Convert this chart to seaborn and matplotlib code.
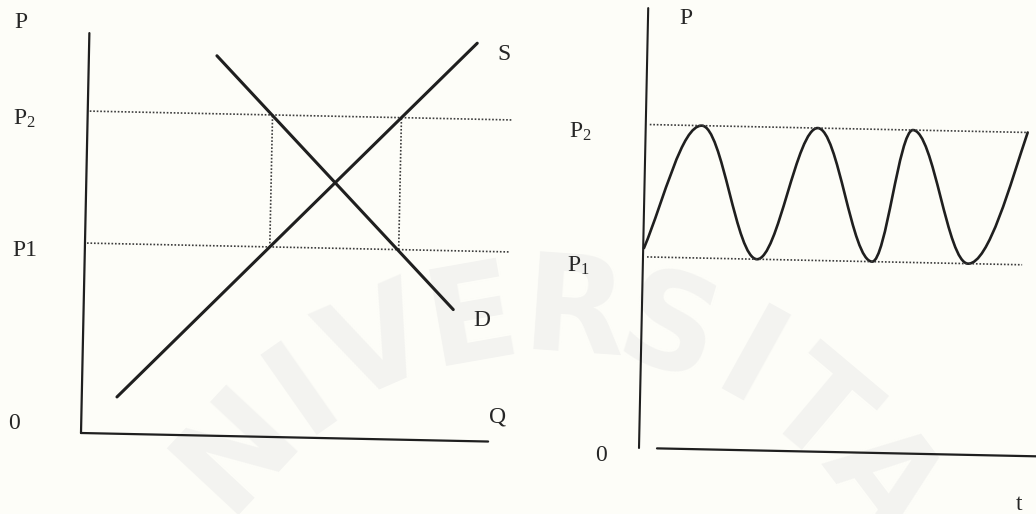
import numpy as np
import matplotlib
matplotlib.use("Agg")
import matplotlib.pyplot as plt
import matplotlib.transforms as mtransforms
from matplotlib.path import Path
from matplotlib.patches import PathPatch
import seaborn as sns

# left diagram: supply / demand (Q, P in arbitrary units, origin at 0)
P1 = 4.75
P2 = 8.05
supply_q = [0.88, 9.70]
supply_p = [0.92, 9.95]
demand_q = [3.20, 9.24]
demand_p = [9.50, 3.28]
q_axis_end = 10.18
p_axis_end = 10.0
guide_end = 10.6

# right diagram: price swinging between P1 and P2 over time
P1_t = 4.78
P2_t = 8.09
wave_t = [0.02, 1.40, 2.85, 4.30, 5.73, 6.68, 8.13, 9.55]
wave_p = [5.00, P2_t, P1_t, P2_t, P1_t, P2_t, P1_t, P2_t]
t_axis = [0.45, 9.93]
pt_axis_end = 11.0
guide_t_end = [9.55, 9.48]   # P2 line, P1 line

# faint scan watermark
wm_letters = list("NIVERSITA")
wm_angles = [-47, -35, -23.5, -10, 4, 17, 29, 40, 53]

sns.set_style("white")
plt.rcParams['font.family'] = ['Liberation Serif', 'DejaVu Serif']
plt.rcParams['mathtext.default'] = 'regular'

INK = '#1f1f1f'
DOT = '#3c3c3c'
TILT = -1.2   # the page was scanned slightly crooked

W, H = 1036, 514
fig = plt.figure(figsize=(W / 100, H / 100), dpi=100)
fig.patch.set_facecolor('#fdfdf8')

# watermark on a pixel-space background axes
bg = fig.add_axes([0, 0, 1, 1])
bg.set_xlim(0, W)
bg.set_ylim(H, 0)
bg.axis('off')
for ch, a in zip(wm_letters, wm_angles):
    r = np.radians(a)
    bg.text(545 + 420 * np.sin(r), 735 - 420 * np.cos(r), ch, rotation=-a,
            ha='center', va='center', fontsize=96, fontweight='bold',
            family='DejaVu Sans', color='#f3f3f0', zorder=0)


def seg(ax, x, y, **kw):
    sns.lineplot(x=x, y=y, ax=ax, estimator=None, sort=False, **kw)


def label(ax, x, y, s):
    ax.text(x, y, s, ha='left', va='baseline', fontsize=17, color='#262626')


dotted = dict(color=DOT, linewidth=1.2, linestyle=(0, (1, 1.1)))

# ---- left panel
ax1 = fig.add_axes([81 / W, (H - 433) / H, 400 / W, 400 / H])
seg(ax1, [0, 0], [0, p_axis_end], color=INK, linewidth=1.6)
seg(ax1, [0, q_axis_end], [0, 0], color=INK, linewidth=1.6)
seg(ax1, [0.05, guide_end], [P2, P2], **dotted)
seg(ax1, [0.05, guide_end], [P1, P1], **dotted)
q_low = np.interp(P1, supply_p, supply_q)
q_high = np.interp(P2, supply_p, supply_q)
seg(ax1, [q_low, q_low], [P1, P2], **dotted)
seg(ax1, [q_high, q_high], [P1, P2], **dotted)
seg(ax1, supply_q, supply_p, color=INK, linewidth=2.2)
seg(ax1, demand_q, demand_p, color=INK, linewidth=2.2)

label(ax1, -1.87, 10.10, 'P')
label(ax1, -1.87, 7.68, 'P$_2$')
label(ax1, -1.80, 4.40, 'P1')
label(ax1, -1.83, 0.05, '0')
label(ax1, 10.22, 9.53, 'S')
label(ax1, 9.74, 2.89, 'D')
label(ax1, 10.19, 0.47, 'Q')

# ---- right panel
ax2 = fig.add_axes([639 / W, (H - 448) / H, 400 / W, 400 / H])
seg(ax2, [0, 0], [0, pt_axis_end], color=INK, linewidth=1.5)
seg(ax2, t_axis, [0, 0], color=INK, linewidth=1.6)
seg(ax2, [0.1, guide_t_end[0]], [P2_t, P2_t], **dotted)
seg(ax2, [0.1, guide_t_end[1]], [P1_t, P1_t], **dotted)

# smooth wave through the turning points (cubic bezier, flat at extremes)
k = 0.3642
verts = [(wave_t[0], wave_p[0])]
codes = [Path.MOVETO]
n = len(wave_t)
for i in range(n - 1):
    t0, p0, t1, p1 = wave_t[i], wave_p[i], wave_t[i + 1], wave_p[i + 1]
    w, dp = t1 - t0, p1 - p0
    if i == 0:
        c1 = (t0 + 0.35 * w, p0 + 0.4 * dp)
    else:
        c1 = (t0 + k * w, p0)
    if i == n - 2:
        c2 = (t1 - 0.28 * w, p1 - 0.38 * dp)
    else:
        c2 = (t1 - k * w, p1)
    verts += [c1, c2, (t1, p1)]
    codes += [Path.CURVE4] * 3
ax2.add_patch(PathPatch(Path(verts, codes), fill=False, edgecolor=INK,
                        linewidth=1.9, capstyle='round'))

label(ax2, 0.78, 10.61, 'P')
label(ax2, -1.92, 7.72, 'P$_2$')
label(ax2, -1.90, 4.37, 'P$_1$')
label(ax2, -1.10, -0.34, '0')
label(ax2, 9.45, -1.34, 't')

for ax in (ax1, ax2):
    ax.set_xlim(0, 10)
    ax.set_ylim(0, 10)
    ax.axis('off')
    ax.patch.set_alpha(0)
    ox, oy = ax.transData.transform((0, 0))
    tr = ax.transData + mtransforms.Affine2D().rotate_deg_around(ox, oy, TILT)
    for art in [*ax.lines, *ax.patches, *ax.texts]:
        art.set_transform(tr)
        art.set_clip_on(False)

fig.savefig("out.png", dpi=100, facecolor=fig.get_facecolor())
